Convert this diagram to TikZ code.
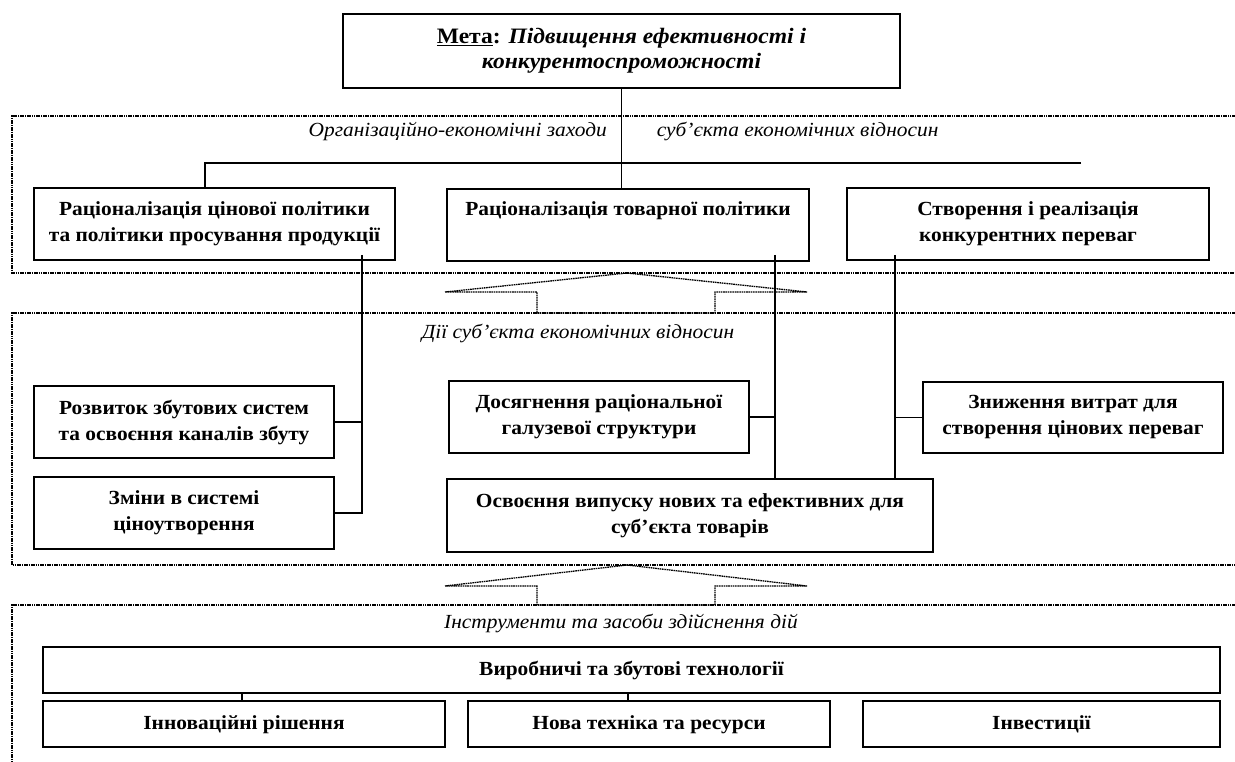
\documentclass[tikz,border=0pt]{standalone}
\usepackage{fontspec}
\setmainfont{Liberation Serif}[FakeStretch=1.07]
\begin{document}
\begin{tikzpicture}[x=1pt,y=-1pt,
  tb/.style={draw, line width=2.6pt, align=center, inner sep=0pt, font=\bfseries\fontsize{20}{26}\selectfont},
  nb/.style={draw, line width=1.3pt, align=center, inner sep=0pt, font=\bfseries\fontsize{20}{26}\selectfont},
  oneline/.style={text height=14pt, text depth=4pt},
  captxt/.style={inner sep=0pt, font=\itshape\fontsize{20}{24}\selectfont},
  fr/.style={line width=1.3pt, dash pattern=on 1.6pt off 0.7pt},
  ln/.style={line width=1.3pt}]
\useasboundingbox (0,0) rectangle (1235,762);

% frames
\draw[fr] (1236,116) -- (12,116) -- (12,273) -- (1236,273);
\draw[fr] (1236,313) -- (12,313) -- (12,565) -- (1236,565);
\draw[fr] (1236,605) -- (12,605) -- (12,763);

% arrows between frames
\draw[fr] (445,292) -- (627,273) -- (807,292) -- (715,292) -- (715,313) -- (537,313) -- (537,292) -- cycle;
\draw[fr] (445,586) -- (627,565) -- (807,586) -- (715,586) -- (715,605) -- (537,605) -- (537,586) -- cycle;

% goal
\node[tb, minimum width=557pt, minimum height=74pt, font=\bfseries\fontsize{22}{25}\selectfont] (meta) at (621.5,51)
  {\underline{Мета}: \textit{Підвищення ефективності і}\\\textit{конкурентоспроможності}};

% captions
\node[captxt] (cap1) at (623.5,132) {Організаційно-економічні заходи\hspace{50pt}суб’єкта економічних відносин};
\node[captxt] (cap2) at (578,333) {Дії суб’єкта економічних відносин};
\node[captxt] (cap3) at (621,623) {Інструменти та засоби здійснення дій};

% level 1
\node[tb, minimum width=361pt, minimum height=72pt] (r1) at (214.5,224)
  {Раціоналізація цінової політики\\та політики просування продукції};
\node[tb, minimum width=362pt, minimum height=72pt] (r2) at (628,225)
  {Раціоналізація товарної політики\\\strut};
\node[tb, minimum width=362pt, minimum height=72pt] (r3) at (1028,224)
  {Створення і реалізація\\конкурентних переваг};

% level 2
\node[nb, minimum width=300pt, minimum height=72pt] (rozv) at (184,422)
  {Розвиток збутових систем\\та освоєння каналів збуту};
\node[nb, minimum width=300pt, minimum height=72pt] (zminy) at (184,513)
  {Зміни в системі\\ціноутворення};
\node[nb, minimum width=300pt, minimum height=72pt] (dosyag) at (599,417)
  {Досягнення раціональної\\галузевої структури};
\node[nb, minimum width=486pt, minimum height=73pt] (osv) at (690,515.5)
  {Освоєння випуску нових та ефективних для\\суб’єкта товарів};
\node[nb, minimum width=300pt, minimum height=71pt] (znyzh) at (1073,417.5)
  {Зниження витрат для\\створення цінових переваг};

% level 3
\node[nb, oneline, minimum width=1177pt, minimum height=46pt] (vyrob) at (631.5,670)
  {Виробничі та збутові технології};
\node[nb, oneline, minimum width=402pt, minimum height=46pt] (innov) at (244,724)
  {Інноваційні рішення};
\node[nb, oneline, minimum width=362pt, minimum height=46pt] (nova) at (649,724)
  {Нова техніка та ресурси};
\node[nb, oneline, minimum width=357pt, minimum height=46pt] (invest) at (1041.5,724)
  {Інвестиції};

% connectors
\coordinate (busL) at (205,163);
\coordinate (busR) at (1081,163);
\draw[ln] (meta.south) -- (meta.south |- r2.north);
\draw[ln] (busR) -- (busL) -- (busL |- r1.north);

\coordinate (c1) at (362,255);
\coordinate (c2) at (775,255);
\coordinate (c3) at (895,255);
\draw[ln] (c1) -- (c1 |- zminy.east) -- (zminy.east);
\draw[ln] (rozv.east) -- (rozv.east -| c1);
\draw[ln] (c2) -- (c2 |- osv.north);
\draw[ln] (dosyag.east) -- (dosyag.east -| c2);
\draw[ln] (c3) -- (c3 |- osv.north);
\draw[ln] (znyzh.west) -- (znyzh.west -| c3);

\coordinate (v1) at (242,0);
\coordinate (v2) at (628,0);
\draw[ln] (v1 |- vyrob.south) -- (v1 |- innov.north);
\draw[ln] (v2 |- vyrob.south) -- (v2 |- nova.north);
\end{tikzpicture}
\end{document}
